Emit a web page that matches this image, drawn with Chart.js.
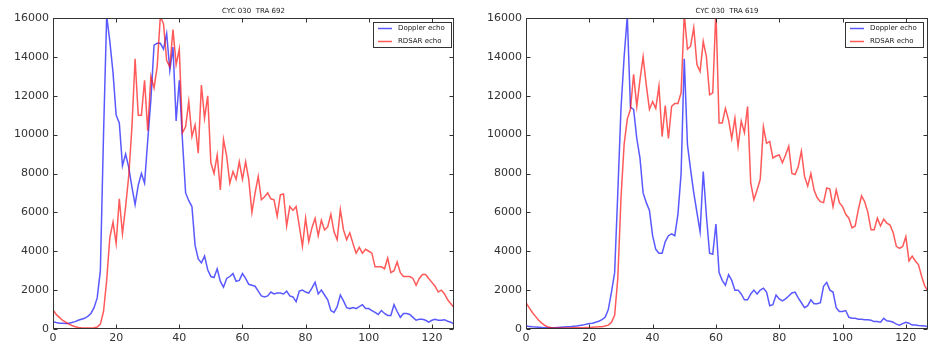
<!DOCTYPE html>
<html><head><meta charset="utf-8">
<script src="https://cdn.jsdelivr.net/npm/chart.js@4/dist/chart.umd.min.js"></script>
<style>
html,body{margin:0;padding:0;background:#fff;}
#wrap{position:relative;width:930px;height:344px;overflow:hidden;background:#fff;}
canvas{position:absolute;top:0;}
</style></head><body>
<div id="wrap">
<canvas id="c1" width="465" height="344" style="left:0;width:465px;height:344px"></canvas>
<canvas id="c2" width="465" height="344" style="left:465px;width:465px;height:344px"></canvas>
</div>
<script>
// ---- data ----
const gates = Array.from({length:128}, (_, i) => i);
const xTicks = [0,20,40,60,80,100,120];
const yTicks = [0,2000,4000,6000,8000,10000,12000,14000,16000];
const seriesNames = ['Doppler echo','RDSAR echo'];
const titleLeft = 'CYC 030  TRA 692';
const titleRight = 'CYC 030  TRA 619';

const dopplerLeft = [380,330,300,290,280,300,330,380,450,500,550,650,800,1100,1600,3000,
10000,16100,14800,13200,11000,10600,8400,9000,8300,7300,6400,7400,8000,7500,9700,11800,
14600,14700,14700,14400,15200,13300,14500,10700,12800,9700,7000,6600,6300,4300,3600,3400,
3750,3050,2700,2650,3100,2450,2150,2600,2700,2850,2450,2500,2850,2600,2300,2250,
2200,1950,1700,1650,1700,1900,1800,1850,1850,1800,1950,1700,1650,1400,1950,2000,
1900,1850,2100,2400,1800,2000,1750,1500,950,850,1150,1750,1450,1100,1050,1100,
1050,1150,1250,1050,1050,950,850,750,950,800,700,700,1250,900,600,800,
800,750,600,450,500,500,450,350,450,500,450,450,480,400,350,250];

const rdsarLeft = [1000,750,600,450,350,250,180,120,80,60,50,50,50,60,100,250,
900,2500,4700,5500,4400,6700,4900,6300,7900,10400,13900,11000,11000,12800,10200,13000,
12400,13500,16100,15700,13800,13500,15400,13600,14400,10100,10400,11700,9900,10500,9050,12550,
10850,12000,8550,8000,8950,7150,9750,8900,7500,8100,7700,8600,7700,8600,7700,6000,
7000,7850,6650,6800,7000,6700,6650,5800,6900,6950,5300,6300,6100,6300,5300,4250,
5700,4500,5200,5700,4800,5600,5100,5250,5900,5000,4600,6150,5100,4600,4950,4400,
3900,4200,3900,4100,4000,3900,3200,3200,3200,3100,3650,2900,3000,3450,2900,2700,
2700,2700,2600,2250,2600,2800,2800,2600,2400,2200,1900,2000,1800,1500,1300,1100];

const dopplerRight = [150,130,110,100,90,80,70,60,60,70,80,90,100,110,120,140,
150,180,200,250,280,300,350,400,480,600,1000,1900,2900,7000,11300,14000,
16100,11400,11300,9800,8800,7000,6500,6100,4800,4100,3900,3900,4500,4800,4900,4800,
5900,8000,13900,9500,8200,7000,6000,5000,8100,5800,3900,3850,5400,2900,2500,2250,
2800,2500,2000,2000,1800,1500,1500,1800,2000,1800,2000,2100,1900,1200,1250,1750,
1550,1450,1550,1700,1850,1900,1600,1350,1100,1200,1500,1300,1300,1350,2200,2400,
2000,1900,1100,900,900,950,600,550,550,500,500,480,480,450,380,380,
350,550,420,400,350,250,200,280,350,300,200,200,180,170,150,120];

const rdsarRight = [1350,1100,850,650,450,300,180,100,60,50,50,50,50,50,50,60,
60,70,70,80,80,90,100,110,120,150,200,350,700,2600,6700,9500,
10800,11300,13100,11450,12800,14000,12550,11300,11700,11350,12500,9900,11500,9800,11450,11600,
11600,12150,16200,14400,14550,15500,13600,13250,14800,14000,12050,12150,16400,10600,10600,11350,
10750,9800,10850,9400,10700,10100,11450,7500,6650,7150,7700,10400,9550,9650,8800,8900,
8950,8550,8950,9400,8000,7950,8350,9150,7850,7350,8000,7150,6750,6550,6500,7250,
7200,6300,7150,6500,6300,5900,5700,5200,5300,6150,6850,6550,6000,5100,5100,5700,
5300,5650,5450,5350,4950,4250,4150,4250,4750,3500,3750,3500,3300,2700,2200,1950];

// ---- styles ----
const BLUE = 'rgba(0,0,255,0.65)';
const RED = 'rgba(255,0,0,0.65)';
const AXIS = '#333';
const FONT = '"DejaVu Sans", "Liberation Sans", sans-serif';

const decorPlugin = {
  id: 'decor',
  afterDatasetsDraw(chart, args, opts) {
    const {ctx, chartArea: a} = chart;
    ctx.save();
    const bw = 78, bh = 25;
    const bx = a.right - bw - opts.legendInset, by = a.top + 4;
    ctx.fillStyle = '#fff';
    ctx.fillRect(bx, by, bw, bh);
    ctx.strokeStyle = AXIS; ctx.lineWidth = 1;
    ctx.strokeRect(Math.round(bx) + 0.5, Math.round(by) + 0.5, bw, bh);
    ctx.font = '7px ' + FONT;
    ctx.textBaseline = 'middle'; ctx.textAlign = 'left';
    chart.data.datasets.forEach((ds, k) => {
      const yy = by + 6.5 + k * 13;
      ctx.strokeStyle = ds.borderColor; ctx.lineWidth = 1.5;
      ctx.beginPath(); ctx.moveTo(bx + 5, yy); ctx.lineTo(bx + 19, yy); ctx.stroke();
      ctx.fillStyle = '#222';
      ctx.fillText(ds.label, bx + 25, yy);
    });
    ctx.restore();
  },
  afterDraw(chart, args, opts) {
    const {ctx, chartArea: a, scales} = chart;
    ctx.save();
    ctx.strokeStyle = AXIS; ctx.lineWidth = 1;
    const L = Math.round(a.left) + 0.5, R = Math.round(a.right) - 0.5;
    const T = Math.round(a.top) + 0.5, B = Math.round(a.bottom) - 0.5;
    ctx.strokeRect(L, T, R - L, B - T);
    ctx.beginPath();
    xTicks.forEach(v => {
      const px = Math.round(scales.x.getPixelForValue(v)) + 0.5;
      ctx.moveTo(px, B); ctx.lineTo(px, B - 4);
      ctx.moveTo(px, T); ctx.lineTo(px, T + 4);
    });
    yTicks.forEach(v => {
      const py = Math.round(scales.y.getPixelForValue(v)) + 0.5;
      ctx.moveTo(L, py); ctx.lineTo(L + 4, py);
      ctx.moveTo(R, py); ctx.lineTo(R - 4, py);
    });
    ctx.stroke();
    ctx.fillStyle = '#222';
    ctx.font = '7px ' + FONT;
    ctx.textAlign = 'center'; ctx.textBaseline = 'middle';
    ctx.fillText(opts.title, (a.left + a.right) / 2, 11);
    ctx.restore();
  }
};

function makeChart(id, dop, rds, title, yWidth, padRight, legendInset) {
  return new Chart(document.getElementById(id), {
    type: 'line',
    data: {
      datasets: [
        {label: seriesNames[0], data: gates.map((g, i) => ({x: g, y: dop[i]})),
         borderColor: BLUE, borderWidth: 1.5, pointRadius: 0, tension: 0, order: 1, fill: false},
        {label: seriesNames[1], data: gates.map((g, i) => ({x: g, y: rds[i]})),
         borderColor: RED, borderWidth: 1.5, pointRadius: 0, tension: 0, order: 0, fill: false}
      ]
    },
    options: {
      responsive: false, animation: false, devicePixelRatio: 1,
      layout: {padding: {top: 18, right: padRight, left: 0, bottom: 0}},
      plugins: {legend: {display: false}, tooltip: {enabled: false}, title: {display: false},
                decor: {title: title, legendInset: legendInset}},
      scales: {
        x: {type: 'linear', min: 0, max: 127,
            grid: {display: false, drawTicks: false}, border: {display: false},
            afterBuildTicks: s => { s.ticks = xTicks.map(v => ({value: v})); },
            afterFit: s => { s.height = 15; },
            ticks: {color: '#333', font: {family: FONT, size: 11}, padding: 3, maxRotation: 0,
                    callback: v => String(v)}},
        y: {type: 'linear', min: 0, max: 16000,
            grid: {display: false, drawTicks: false}, border: {display: false},
            afterBuildTicks: s => { s.ticks = yTicks.map(v => ({value: v})); },
            afterFit: s => { s.width = yWidth; },
            ticks: {color: '#333', font: {family: FONT, size: 11}, padding: 4,
                    callback: v => String(v)}}
      }
    },
    plugins: [decorPlugin]
  });
}

makeChart('c1', dopplerLeft, rdsarLeft, titleLeft, 53, 11, 3);
makeChart('c2', dopplerRight, rdsarRight, titleRight, 61, 2, 5);
</script>
</body></html>
